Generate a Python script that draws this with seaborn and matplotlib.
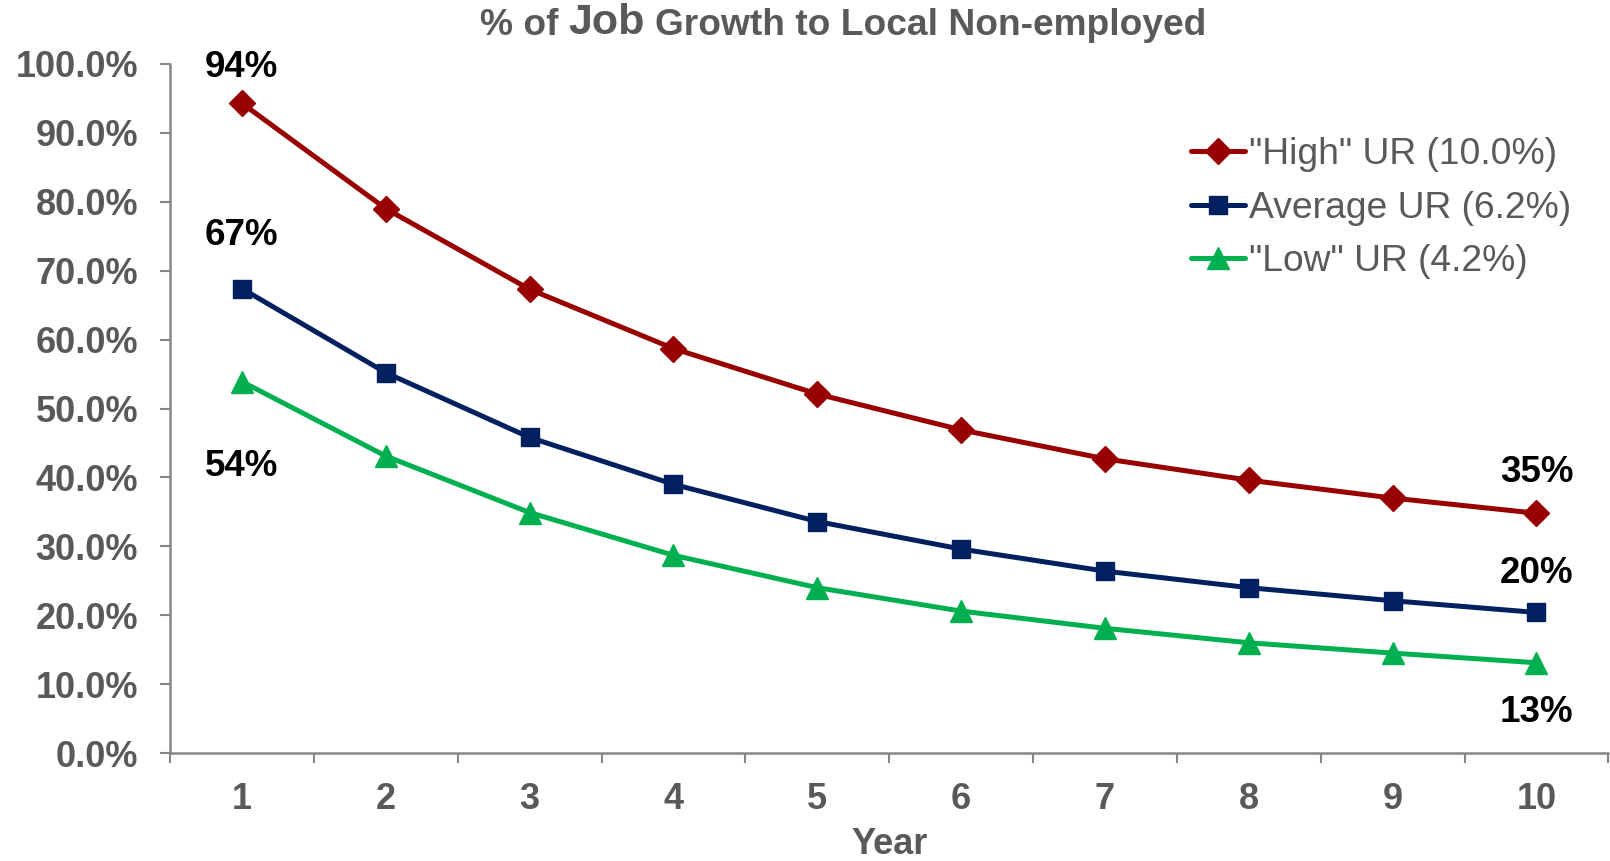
import matplotlib
matplotlib.use("Agg")
import matplotlib.pyplot as plt
import seaborn as sns
import numpy as np
import pandas as pd
from matplotlib.ticker import FuncFormatter, FixedLocator

# ---- data ----
years = [1, 2, 3, 4, 5, 6, 7, 8, 9, 10]
high_ur = [0.943, 0.790, 0.673, 0.587, 0.521, 0.469, 0.427, 0.396, 0.370, 0.348]
avg_ur = [0.674, 0.552, 0.458, 0.390, 0.336, 0.296, 0.264, 0.240, 0.221, 0.204]
low_ur = [0.539, 0.431, 0.349, 0.287, 0.240, 0.206, 0.181, 0.160, 0.145, 0.131]
series_labels = ['"High" UR (10.0%)', 'Average UR (6.2%)', '"Low" UR (4.2%)']
title_parts = ["% of", "Job", "Growth to Local Non-employed"]
x_label = "Year"
y_ticks = [0.0, 0.1, 0.2, 0.3, 0.4, 0.5, 0.6, 0.7, 0.8, 0.9, 1.0]

colors = ["#990000", "#002060", "#00B050"]
markers = ["D", "s", "^"]
msizes = [13, 13.5, 16]
GRAY = "#595959"
AXGRAY = "#868686"

sns.set_style("white")
plt.rcParams["font.family"] = ["Liberation Sans", "DejaVu Sans"]

fig = plt.figure(figsize=(16.1, 8.61), dpi=100)
ax = fig.add_axes([0.1056, 0.1254, 0.8934, 0.8003])

all_series = [high_ur, avg_ur, low_ur]
for vals, lab, c, m, ms in zip(all_series, series_labels, colors, markers, msizes):
    df = pd.DataFrame({"Year": years, "Value": vals})
    sns.lineplot(data=df, x="Year", y="Value", ax=ax, color=c, linewidth=3.6,
                 marker=m, markersize=ms, markeredgecolor=c, markeredgewidth=1,
                 label=lab)

ax.set_xlim(0.5, 10.5)
ax.set_ylim(0, 1.0)
ax.set_xticks(years)
ax.set_xticklabels([str(y) for y in years])
ax.xaxis.set_minor_locator(FixedLocator(np.arange(0.5, 11, 1)))
ax.set_yticks(y_ticks)
ax.yaxis.set_major_formatter(FuncFormatter(lambda v, p: f"{v*100:.1f}%"))

ax.tick_params(axis="x", which="major", length=0, pad=21, labelsize=26,
               labelcolor=GRAY)
ax.tick_params(axis="x", which="minor", length=7, width=1.5, color=AXGRAY,
               direction="out", bottom=True)
ax.tick_params(axis="y", which="major", length=7, width=1.5, color=AXGRAY,
               direction="out", left=True, pad=16, labelsize=26, labelcolor=GRAY)
for lbl in ax.get_xticklabels() + ax.get_yticklabels():
    lbl.set_fontweight("bold")

for s in ["top", "right"]:
    ax.spines[s].set_visible(False)
for s in ["left", "bottom"]:
    ax.spines[s].set_color(AXGRAY)
    ax.spines[s].set_linewidth(1.8)

ax.set_ylabel("")
ax.set_xlabel(x_label, fontsize=26, fontweight="bold", color=GRAY)
ax.xaxis.set_label_coords(0.5, -0.108)

# data labels
label_specs = [(0, 0, 26), (0, 9, 29), (1, 0, 38), (1, 9, 28), (2, 0, -61), (2, 9, -36)]
for si, idx, dy in label_specs:
    v = all_series[si][idx]
    ax.annotate(f"{round(v*100):.0f}%", xy=(years[idx], v), xytext=(0, dy),
                textcoords="offset points", ha="center", va="center",
                fontsize=26.5, fontweight="bold", color="black")

# legend
leg = ax.legend(loc="upper left", bbox_to_anchor=(0.7398, 0.8409),
                bbox_transform=fig.transFigure, frameon=False, fontsize=26.8,
                handlelength=1.45, handletextpad=0.1, labelspacing=0.5,
                borderpad=0, borderaxespad=0)
for t in leg.get_texts():
    t.set_color(GRAY)

# title with larger "Job"
t1 = fig.text(0.298, 0.959, title_parts[0], fontsize=26.7, fontweight="bold",
              color=GRAY, va="baseline", ha="left")
t2 = ax.annotate(title_parts[1], xy=(1, 0), xycoords=t1, xytext=(7.5, 0),
                 textcoords="offset points", fontsize=31, fontweight="bold",
                 color=GRAY, va="bottom", ha="left", annotation_clip=False)
t3 = ax.annotate(title_parts[2], xy=(1, 0), xycoords=t2, xytext=(7.5, 0),
                 textcoords="offset points", fontsize=26.7, fontweight="bold",
                 color=GRAY, va="bottom", ha="left", annotation_clip=False)

fig.savefig("out.png", dpi=100)
